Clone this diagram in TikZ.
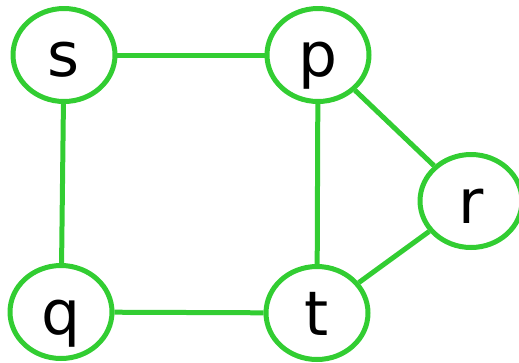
\documentclass[tikz,border=0pt]{standalone}
\usepackage{fontspec}
\setmainfont{DejaVu Sans}
\usetikzlibrary{shapes.geometric}

\definecolor{vgreen}{RGB}{50,205,50}

\begin{document}
\begin{tikzpicture}[
  x=0.02cm, y=-0.02cm,
  vertex/.style={ellipse,draw=vgreen,line width=0.1cm,fill=white,
    minimum width=2.04cm,minimum height=1.86cm,inner sep=0pt,
    text height=0.88cm,text depth=0pt,
    font=\fontsize{35}{40}\selectfont},
  edge/.style={vgreen,line width=0.1cm}]

  \useasboundingbox (0,0) rectangle (519,362);

  % vertices
  \node[vertex] (s) at (64,55)  {s};
  \node[vertex] (p) at (318,55) {p};
  \node[vertex] (r) at (471,201) {r};
  \node[vertex] (q) at (61,312) {q};
  \node[vertex] (t) at (317,313) {t};

  % edges
  \draw[edge] (s) -- (p);
  \draw[edge] (s) -- (q);
  \draw[edge] (p) -- (t);
  \draw[edge] (p) -- (r);
  \draw[edge] (t) -- (r);
  \draw[edge] (q) -- (t);
\end{tikzpicture}
\end{document}
